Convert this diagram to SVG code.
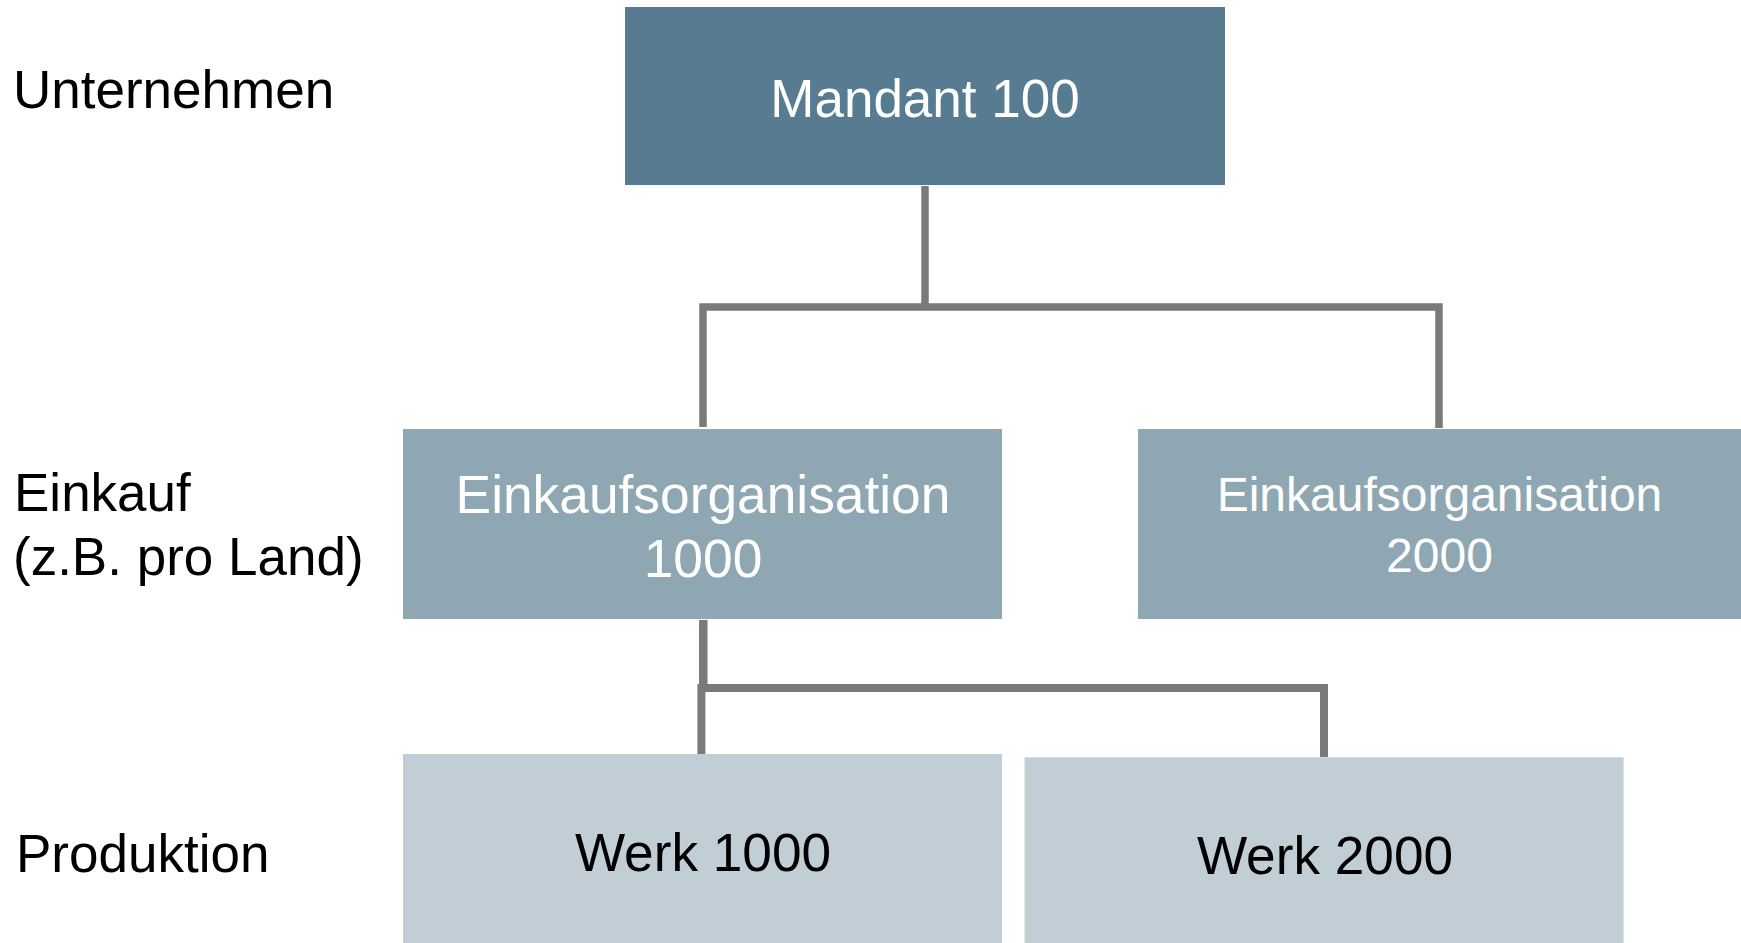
<svg xmlns="http://www.w3.org/2000/svg" width="1741" height="943" viewBox="0 0 1741 943">
<style>
text{font-family:"Liberation Sans",Arial,sans-serif}
.lbl{font-size:53px;fill:#000}
.c{text-anchor:middle}
.w{fill:#fff}
.k{fill:#000}
.conn{fill:none;stroke:#7a7a7a;stroke-width:7.5;stroke-linejoin:miter;stroke-linecap:butt}
</style>
<rect width="1741" height="943" fill="#fff"/>
<g id="labels">
<text class="lbl" x="13" y="108">Unternehmen</text>
<text class="lbl" x="14" y="511">Einkauf</text>
<text class="lbl" x="13" y="575">(z.B. pro Land)</text>
<text class="lbl" x="16" y="872">Produktion</text>
</g>
<g id="connectors">
<path class="conn" d="M925 186 V307"/>
<path class="conn" d="M703 427 V307 H1439 V428"/>
<path class="conn" style="stroke-width:8.5" d="M703.3 620 V688"/>
<path class="conn" style="stroke-width:8" d="M701.4 754 V688 H1324 V757"/>
</g>
<g id="mandant100">
<rect x="625" y="7" width="600" height="178" fill="#577c92"/>
<text class="c w" x="925" y="117" font-size="53">Mandant 100</text>
</g>
<g id="ekorg1000">
<rect x="403" y="429" width="599" height="190" fill="#8fa7b3"/>
<text class="c w" x="703" y="513" font-size="53.3">Einkaufsorganisation</text>
<text class="c w" x="703" y="577" font-size="53.3">1000</text>
</g>
<g id="ekorg2000">
<rect x="1138" y="429" width="603" height="190" fill="#8fa7b3"/>
<text class="c w" x="1439.5" y="511" font-size="48">Einkaufsorganisation</text>
<text class="c w" x="1439.5" y="572" font-size="48">2000</text>
</g>
<g id="werk1000">
<rect x="403" y="754" width="599" height="189" fill="#c1ced5"/>
<text class="c k" x="703" y="871" font-size="53.2">Werk 1000</text>
</g>
<g id="werk2000">
<rect x="1024.6" y="757.3" width="599" height="186" fill="#c1ced5"/>
<text class="c k" x="1325" y="874" font-size="53.2">Werk 2000</text>
</g>
</svg>
